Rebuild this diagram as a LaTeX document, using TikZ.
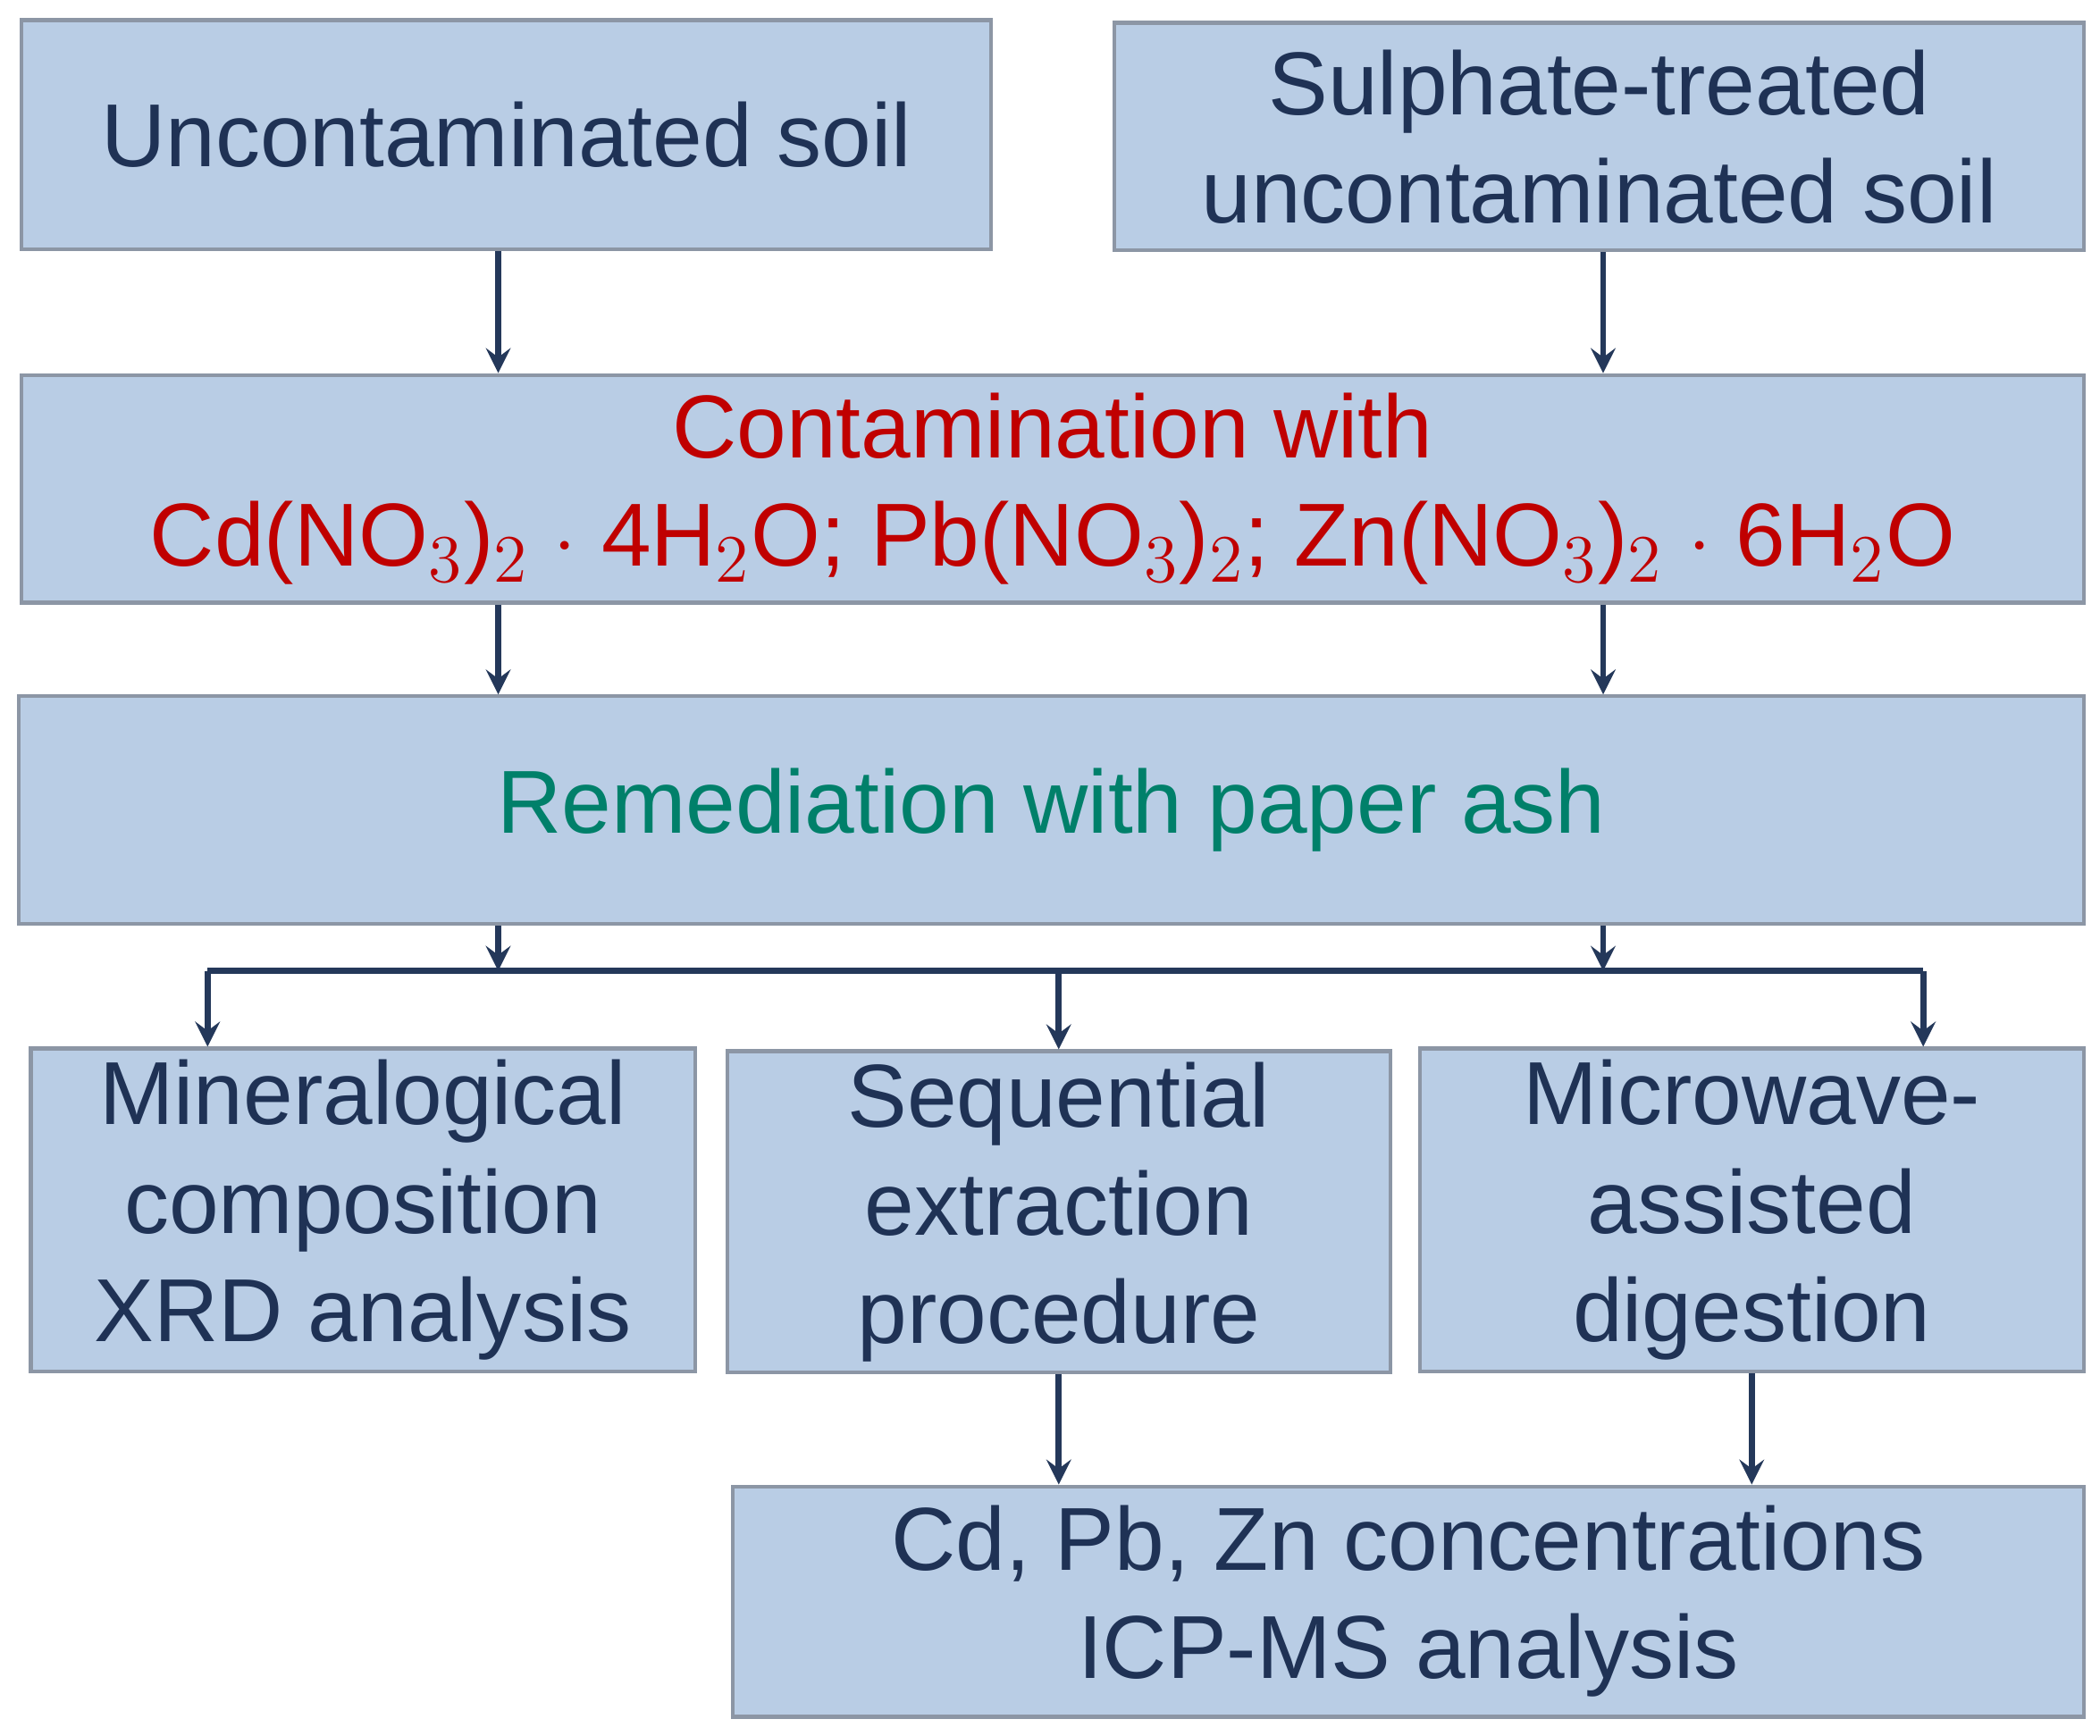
\documentclass[tikz,border=0pt]{standalone}
\usepackage{fontspec}
\setmainfont{Liberation Sans}
\usetikzlibrary{arrows, calc, positioning}
\definecolor{boxfill}{RGB}{185,205,229}
\definecolor{boxline}{RGB}{140,150,165}
\definecolor{txtblue}{RGB}{31,50,85}
\definecolor{txtred}{RGB}{192,0,0}
\definecolor{txtgreen}{RGB}{0,128,106}
\definecolor{arrowcol}{RGB}{36,56,90}
\tikzset{
  box/.style={draw=boxline, fill=boxfill, line width=0.8pt, align=center,
    text=txtblue, font=\fontsize{19}{23}\selectfont, inner sep=0pt},
  flow/.style={->, >=stealth, draw=arrowcol, line width=1.3pt}
}
\begin{document}
\begin{tikzpicture}
    \useasboundingbox (0,0) rectangle (15.68,-12.96);
    % Source soils
    \node[box, minimum width=7.24cm, minimum height=1.71cm] (unc) at (3.78,-1.005) {Uncontaminated soil};
    \node[box, minimum width=7.24cm, minimum height=1.70cm] (sul) at (11.94,-1.02) {Sulphate-treated\\uncontaminated soil};
    % Contamination and remediation
    \node[box, minimum width=15.40cm, minimum height=1.70cm, text=txtred] (cont) at (7.86,-3.65)
      {Contamination with\\Cd(NO$_3$)$_2$ $\cdot$ 4H$_2$O; Pb(NO$_3$)$_2$; Zn(NO$_3$)$_2$ $\cdot$ 6H$_2$O};
    \node[box, minimum width=15.42cm, minimum height=1.70cm, text=txtgreen] (rem) at (7.85,-6.05) {Remediation with paper ash};
    % Analyses
    \node[box, minimum width=4.96cm, minimum height=2.41cm] (xrd) at (2.71,-9.035) {Mineralogical\\composition\\XRD analysis};
    \node[box, minimum width=4.95cm, minimum height=2.40cm] (seq) at (7.905,-9.05) {Sequential\\extraction\\procedure};
    \node[box, minimum width=4.96cm, minimum height=2.41cm] (mic) at (13.08,-9.035) {Microwave-\\assisted\\digestion};
    \node[box, minimum width=10.09cm, minimum height=1.72cm] (icp) at (10.515,-11.96) {Cd, Pb, Zn concentrations\\ICP-MS analysis};
    % Arrows
    \coordinate (cl) at (3.72,0);
    \coordinate (cr) at (11.97,0);
    \draw[flow] (cl |- unc.south) -- (cl |- cont.north);
    \draw[flow] (cr |- sul.south) -- (cr |- cont.north);
    \draw[flow] (cl |- cont.south) -- (cl |- rem.north);
    \draw[flow] (cr |- cont.south) -- (cr |- rem.north);
    % Distribution bus
    \coordinate (bus) at (0,-7.25);
    \coordinate (bl) at (1.55,-7.25);
    \coordinate (br) at (14.36,-7.25);
    \draw[flow] (cl |- rem.south) -- (cl |- bus);
    \draw[flow] (cr |- rem.south) -- (cr |- bus);
    \draw[arrowcol, line width=1.3pt] (bl) -- (br);
    \draw[flow] (bl) -- (bl |- xrd.north);
    \draw[flow] (seq.north |- bus) -- (seq.north);
    \draw[flow] (br) -- (br |- mic.north);
    \draw[flow] (seq.south) -- (seq.south |- icp.north);
    \draw[flow] (mic.south) -- (mic.south |- icp.north);
\end{tikzpicture}
\end{document}
